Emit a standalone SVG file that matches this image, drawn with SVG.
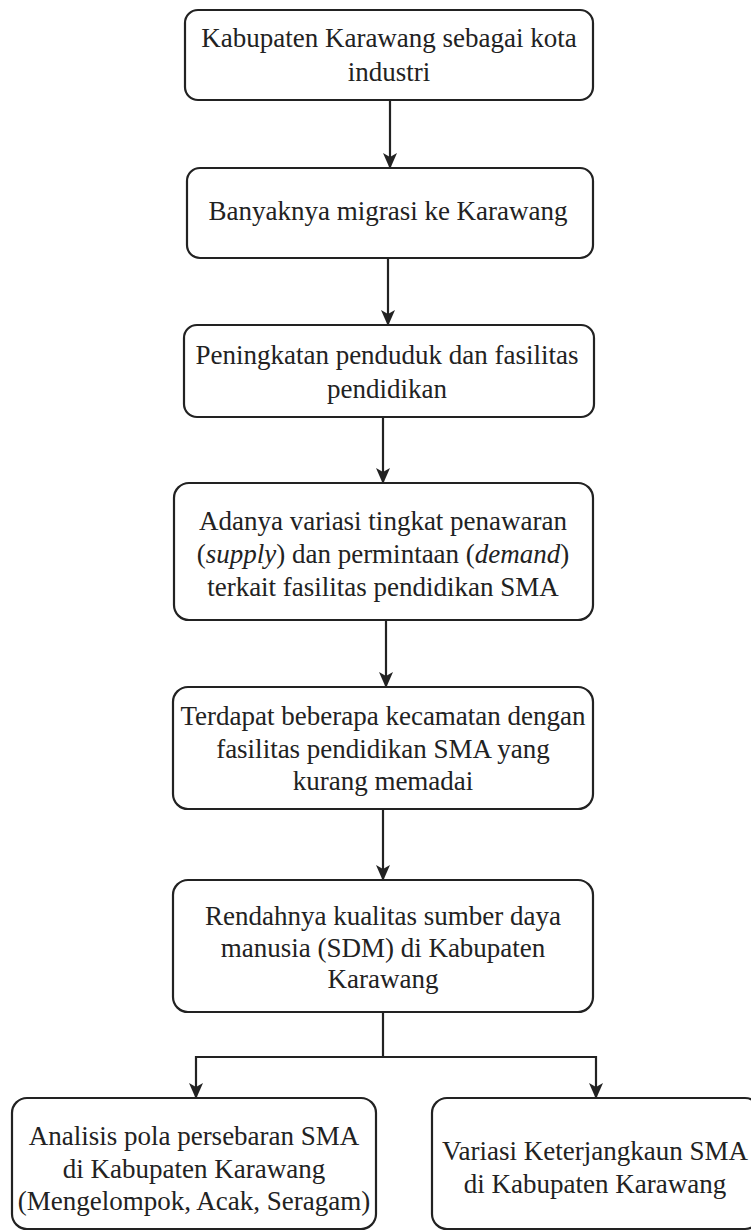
<svg xmlns="http://www.w3.org/2000/svg" width="751" height="1232" viewBox="0 0 751 1232">
<style>
.box{fill:#fff;stroke:#222;stroke-width:2.2}
.t{font-family:"Liberation Serif","Times New Roman",serif;font-size:27px;fill:#222;text-anchor:middle}
.c{fill:none;stroke:#222;stroke-width:2.2}
</style>
<defs>
<marker id="ah" markerWidth="16" markerHeight="16" viewBox="0 0 16 16" refX="15" refY="8" orient="auto" markerUnits="userSpaceOnUse">
<path d="M0,1 L16,8 L0,15 L4,8 Z" fill="#222"/>
</marker>
</defs>
<rect width="751" height="1232" fill="#fff"/>
<g id="connectors">
<line class="c" x1="390" y1="100" x2="390" y2="168" marker-end="url(#ah)"/>
<line class="c" x1="388" y1="258" x2="388" y2="325" marker-end="url(#ah)"/>
<line class="c" x1="383" y1="417" x2="383" y2="483" marker-end="url(#ah)"/>
<line class="c" x1="386" y1="620" x2="386" y2="687" marker-end="url(#ah)"/>
<line class="c" x1="383" y1="809" x2="383" y2="880" marker-end="url(#ah)"/>
<polyline class="c" points="383,1012 383,1057 196,1057 196,1098" marker-end="url(#ah)"/>
<polyline class="c" points="383,1057 596,1057 596,1098" marker-end="url(#ah)"/>
</g>
<g id="n1">
<rect class="box" x="185" y="10" width="408" height="90" rx="13"/>
<text class="t" x="389" y="47">Kabupaten Karawang sebagai kota</text>
<text class="t" x="389" y="81">industri</text>
</g>
<g id="n2">
<rect class="box" x="187" y="168" width="406" height="90" rx="13"/>
<text class="t" x="388" y="220">Banyaknya migrasi ke Karawang</text>
</g>
<g id="n3">
<rect class="box" x="184" y="325" width="410" height="92" rx="13"/>
<text class="t" x="387" y="364">Peningkatan penduduk dan fasilitas</text>
<text class="t" x="387" y="398">pendidikan</text>
</g>
<g id="n4">
<rect class="box" x="174" y="483" width="419" height="137" rx="15"/>
<text class="t" x="383" y="530">Adanya variasi tingkat penawaran</text>
<text class="t" x="383" y="563">(<tspan font-style="italic">supply</tspan>) dan permintaan (<tspan font-style="italic">demand</tspan>)</text>
<text class="t" x="383" y="596">terkait fasilitas pendidikan SMA</text>
</g>
<g id="n5">
<rect class="box" x="173" y="687" width="420" height="122" rx="15"/>
<text class="t" x="383" y="725">Terdapat beberapa kecamatan dengan</text>
<text class="t" x="383" y="758">fasilitas pendidikan SMA yang</text>
<text class="t" x="383" y="790">kurang memadai</text>
</g>
<g id="n6">
<rect class="box" x="173" y="880" width="420" height="132" rx="15"/>
<text class="t" x="383" y="925">Rendahnya kualitas sumber daya</text>
<text class="t" x="383" y="957">manusia (SDM) di Kabupaten</text>
<text class="t" x="383" y="988">Karawang</text>
</g>
<g id="n7">
<rect class="box" x="12" y="1098" width="364" height="131" rx="15"/>
<text class="t" x="194" y="1145">Analisis pola persebaran SMA</text>
<text class="t" x="194" y="1178">di Kabupaten Karawang</text>
<text class="t" x="194" y="1210">(Mengelompok, Acak, Seragam)</text>
</g>
<g id="n8">
<rect class="box" x="432" y="1098" width="328" height="131" rx="15"/>
<text class="t" x="595" y="1160">Variasi Keterjangkaun SMA</text>
<text class="t" x="595" y="1193">di Kabupaten Karawang</text>
</g>
</svg>
